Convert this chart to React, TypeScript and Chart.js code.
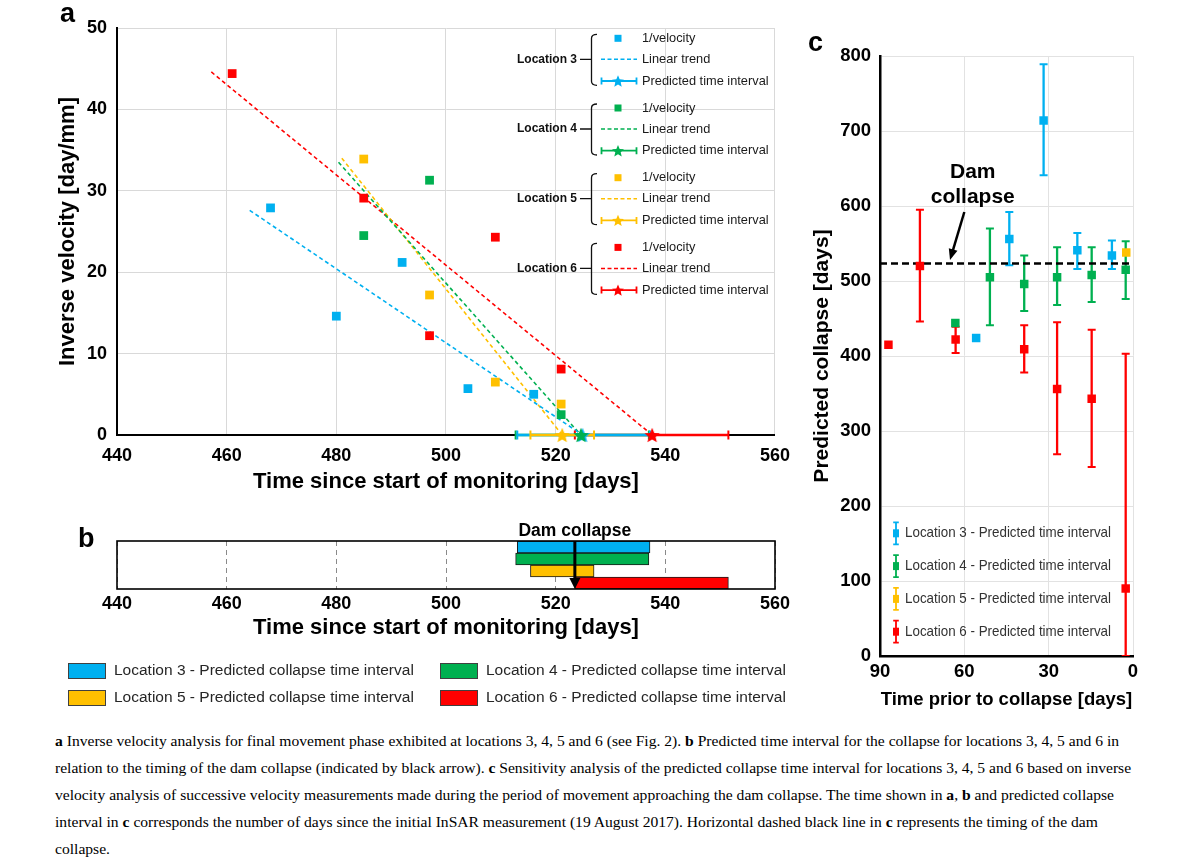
import React, { useEffect, useRef } from 'react';
import { Chart, registerables } from 'chart.js';

Chart.register(...registerables);

const FONT = '"Liberation Sans", Arial, Helvetica, sans-serif';
const BLUE = '#00B0F0';
const GREEN = '#00B050';
const YELLOW = '#FFC000';
const RED = '#FF0000';

// ---------- Panel a : inverse velocity ----------
const loc3Days = [468, 480, 492, 504, 516];
const loc3InvVel = [27.9, 14.6, 21.2, 5.7, 5.0];
const loc4Days = [485, 497, 521];
const loc4InvVel = [24.5, 31.3, 2.5];
const loc5Days = [485, 497, 509, 521];
const loc5InvVel = [33.9, 17.2, 6.5, 3.8];
const loc6Days = [461, 485, 497, 509, 521];
const loc6InvVel = [44.4, 29.1, 12.2, 24.3, 8.1];

// linear trend end points
const loc3TrendX = [464.2, 524.9];
const loc3TrendY = [27.6, 0];
const loc4TrendX = [480.4, 524.6];
const loc4TrendY = [33.5, 0];
const loc5TrendX = [481.0, 521.2];
const loc5TrendY = [34.0, 0];
const loc6TrendX = [457.2, 537.6];
const loc6TrendY = [44.6, 0];

// predicted collapse interval [low, predicted, high]
const loc3Interval = [513.0, 524.9, 537.2];
const loc4Interval = [512.7, 524.6, 537.0];
const loc5Interval = [515.4, 521.2, 527.0];
const loc6Interval = [523.5, 537.6, 551.5];

const damCollapseDay = 523.5;

// ---------- Panel b ----------
const barRows = ['Location 3', 'Location 4', 'Location 5', 'Location 6'];

// ---------- Panel c : sensitivity ----------
const loc3Prior = [55.8, 44.0, 31.8, 19.8, 7.5];
const loc3Pred = [424, 556, 714, 541, 534];
const loc3Low: (number | null)[] = [null, 521, 641, 516, 516];
const loc3High: (number | null)[] = [null, 592, 789, 564, 554];

const loc4Prior = [63.2, 50.9, 38.7, 27.0, 14.7, 2.6];
const loc4Pred = [444, 505, 496, 505, 508, 515];
const loc4Low: (number | null)[] = [null, 441, 460, 468, 472, 476];
const loc4High: (number | null)[] = [null, 570, 534, 545, 545, 553];

const loc5Prior = [2.4];
const loc5Pred = [538];

const loc6Prior = [87.0, 75.8, 63.1, 38.7, 27.0, 14.7, 2.6];
const loc6Pred = [415, 520, 422, 409, 356, 343, 90];
const loc6Low: (number | null)[] = [null, 446, 404, 378, 269, 252, 0];
const loc6High: (number | null)[] = [null, 595, 439, 441, 445, 435, 403];

// ---------- helpers ----------
function starPath(ctx: CanvasRenderingContext2D, cx: number, cy: number, R: number) {
  const r = R * 0.45;
  ctx.beginPath();
  for (let i = 0; i < 10; i++) {
    const ang = -Math.PI / 2 + (i * Math.PI) / 5;
    const rad = i % 2 === 0 ? R : r;
    const x = cx + rad * Math.cos(ang);
    const y = cy + rad * Math.sin(ang);
    if (i === 0) ctx.moveTo(x, y);
    else ctx.lineTo(x, y);
  }
  ctx.closePath();
}

function makeStar(color: string, R: number): HTMLCanvasElement {
  const size = Math.ceil(R * 2 + 2);
  const c = document.createElement('canvas');
  c.width = size;
  c.height = size;
  const ctx = c.getContext('2d')!;
  starPath(ctx, size / 2, size / 2 + R * 0.1, R);
  ctx.fillStyle = color;
  ctx.fill();
  return c;
}

function pts(xs: number[], ys: number[]) {
  return xs.map((x, i) => ({ x, y: ys[i] }));
}

function errorBarPoints(prior: number[], low: (number | null)[], high: (number | null)[]) {
  const out: { x: number; y: number | null }[] = [];
  prior.forEach((x, i) => {
    const lo = low[i];
    const hi = high[i];
    if (lo == null || hi == null) return;
    out.push({ x, y: lo }, { x, y: hi }, { x, y: null });
  });
  return out;
}

// ---------- Panel a ----------
function buildA(el: HTMLCanvasElement) {
  const squares = (days: number[], vals: number[], color: string) => ({
    type: 'scatter' as const,
    data: pts(days, vals),
    pointStyle: 'rect',
    pointRadius: 6.2,
    backgroundColor: color,
    borderColor: color,
    borderWidth: 0,
    order: 5,
  });
  const trend = (xs: number[], ys: number[], color: string) => ({
    type: 'line' as const,
    data: pts(xs, ys),
    borderColor: color,
    borderWidth: 1.6,
    borderDash: [4, 3],
    pointRadius: 0,
    fill: false,
    showLine: true,
    order: 10,
  });
  const interval = (iv: number[], color: string, order: number) => ({
    type: 'line' as const,
    data: [
      { x: iv[0], y: 0 },
      { x: iv[2], y: 0 },
    ],
    borderColor: color,
    borderWidth: 2.5,
    showLine: true,
    pointStyle: 'line',
    pointRotation: 90,
    pointRadius: 4.5,
    pointBorderWidth: 2,
    pointBorderColor: color,
    pointBackgroundColor: color,
    clip: false as const,
    order,
  });
  const star = (iv: number[], color: string) => ({
    type: 'scatter' as const,
    data: [{ x: iv[1], y: 0 }],
    pointStyle: makeStar(color, 8),
    pointRadius: 8,
    clip: false as const,
    order: 0,
  });

  const legendA = {
    id: 'legendA',
    afterDraw(chart: any) {
      const ctx: CanvasRenderingContext2D = chart.ctx;
      ctx.save();
      ctx.fillStyle = '#000';
      ctx.font = 'bold 27px ' + FONT;
      ctx.textAlign = 'left';
      ctx.textBaseline = 'alphabetic';
      ctx.fillText('a', 60, 22);

      const groups = [
        { name: 'Location 3', color: BLUE },
        { name: 'Location 4', color: GREEN },
        { name: 'Location 5', color: YELLOW },
        { name: 'Location 6', color: RED },
      ];
      groups.forEach((g, i) => {
        const cy = 59.3 + i * 69.7;
        const r0 = cy - 21;
        const r1 = cy;
        const r2 = cy + 21.7;
        ctx.fillStyle = '#111';
        ctx.font = 'bold 12px ' + FONT;
        ctx.textAlign = 'right';
        ctx.textBaseline = 'middle';
        ctx.fillText(g.name, 577, cy);
        ctx.strokeStyle = '#111';
        ctx.lineWidth = 1.3;
        ctx.setLineDash([]);
        ctx.beginPath();
        ctx.moveTo(580, cy);
        ctx.lineTo(591.5, cy);
        ctx.moveTo(597, cy - 25);
        ctx.quadraticCurveTo(591.5, cy - 25, 591.5, cy - 21);
        ctx.lineTo(591.5, cy + 22);
        ctx.quadraticCurveTo(591.5, cy + 26, 597, cy + 26);
        ctx.stroke();
        // square
        ctx.fillStyle = g.color;
        ctx.fillRect(618 - 3.5, r0 - 3.5, 7, 7);
        // dashed trend
        ctx.strokeStyle = g.color;
        ctx.lineWidth = 1.5;
        ctx.setLineDash([4, 2.5]);
        ctx.beginPath();
        ctx.moveTo(601, r1);
        ctx.lineTo(637, r1);
        ctx.stroke();
        ctx.setLineDash([]);
        // interval
        ctx.lineWidth = 1.8;
        ctx.beginPath();
        ctx.moveTo(601, r2);
        ctx.lineTo(637, r2);
        ctx.moveTo(601.5, r2 - 3.5);
        ctx.lineTo(601.5, r2 + 3.5);
        ctx.moveTo(636.5, r2 - 3.5);
        ctx.lineTo(636.5, r2 + 3.5);
        ctx.stroke();
        starPath(ctx, 618, r2 + 0.6, 6.3);
        ctx.fillStyle = g.color;
        ctx.fill();
        // texts
        ctx.fillStyle = '#1a1a1a';
        ctx.font = '12.8px ' + FONT;
        ctx.textAlign = 'left';
        ctx.fillText('1/velocity', 642, r0);
        ctx.fillText('Linear trend', 642, r1);
        ctx.fillText('Predicted time interval', 642, r2, 128);
      });
      ctx.restore();
    },
  };

  return new Chart(el, {
    type: 'scatter',
    data: {
      datasets: [
        trend(loc3TrendX, loc3TrendY, BLUE),
        trend(loc4TrendX, loc4TrendY, GREEN),
        trend(loc5TrendX, loc5TrendY, YELLOW),
        trend(loc6TrendX, loc6TrendY, RED),
        squares(loc3Days, loc3InvVel, BLUE),
        squares(loc4Days, loc4InvVel, GREEN),
        squares(loc5Days, loc5InvVel, YELLOW),
        squares(loc6Days, loc6InvVel, RED),
        interval(loc6Interval, RED, 4),
        interval(loc4Interval, GREEN, 3),
        interval(loc3Interval, BLUE, 2),
        interval(loc5Interval, YELLOW, 1),
        star(loc6Interval, RED),
        star(loc4Interval, GREEN),
        star(loc3Interval, BLUE),
        star(loc5Interval, YELLOW),
      ] as any,
    },
    options: {
      animation: false,
      responsive: false,
      maintainAspectRatio: false,
      layout: { padding: { left: 55, right: 25, top: 28, bottom: 5 } },
      plugins: { legend: { display: false }, tooltip: { enabled: false } },
      scales: {
        x: {
          type: 'linear',
          min: 440,
          max: 560,
          ticks: { stepSize: 20, color: '#000', padding: 10, font: { size: 18, weight: 'bold' } },
          grid: { color: '#d9d9d9', drawTicks: false },
          border: { color: '#000', width: 2 },
          title: {
            display: true,
            text: 'Time since start of monitoring [days]',
            color: '#000',
            padding: 0,
            font: { size: 22, weight: 'bold' },
          },
          afterFit: (s: any) => {
            s.height = 60;
          },
        },
        y: {
          type: 'linear',
          min: 0,
          max: 50,
          ticks: { stepSize: 10, color: '#000', padding: 10, font: { size: 18, weight: 'bold' } },
          grid: { color: '#d9d9d9', drawTicks: false },
          border: { color: '#000', width: 2 },
          title: {
            display: true,
            text: 'Inverse velocity [day/mm]',
            color: '#000',
            padding: 0,
            font: { size: 22, weight: 'bold' },
          },
          afterFit: (s: any) => {
            s.width = 62;
          },
        },
      },
    } as any,
    plugins: [legendA],
  });
}

// ---------- Panel b ----------
function buildB(el: HTMLCanvasElement) {
  const intervals = [loc3Interval, loc4Interval, loc5Interval, loc6Interval];
  const colors = [BLUE, GREEN, YELLOW, RED];
  const pluginB = {
    id: 'pluginB',
    afterDraw(chart: any) {
      const ctx: CanvasRenderingContext2D = chart.ctx;
      const ca = chart.chartArea;
      const xs = chart.scales.x;
      ctx.save();
      ctx.setLineDash([]);
      ctx.strokeStyle = '#000';
      ctx.lineWidth = 1.6;
      ctx.strokeRect(ca.left, ca.top, ca.right - ca.left, ca.bottom - ca.top);
      const ax = xs.getPixelForValue(damCollapseDay);
      ctx.lineWidth = 3;
      ctx.beginPath();
      ctx.moveTo(ax, ca.top);
      ctx.lineTo(ax, ca.bottom - 9);
      ctx.stroke();
      ctx.fillStyle = '#000';
      ctx.beginPath();
      ctx.moveTo(ax - 5.5, ca.bottom - 11);
      ctx.lineTo(ax + 5.5, ca.bottom - 11);
      ctx.lineTo(ax, ca.bottom);
      ctx.closePath();
      ctx.fill();
      ctx.font = 'bold 17.5px ' + FONT;
      ctx.textAlign = 'center';
      ctx.textBaseline = 'middle';
      ctx.fillText('Dam collapse', ax, ca.top - 10);
      ctx.font = 'bold 27px ' + FONT;
      ctx.textAlign = 'left';
      ctx.textBaseline = 'alphabetic';
      ctx.fillText('b', 78, 47);
      // legend
      const items = [
        { x: 68, y: 171, c: BLUE, t: 'Location 3 - Predicted collapse time interval' },
        { x: 440, y: 171, c: GREEN, t: 'Location 4 - Predicted collapse time interval' },
        { x: 68, y: 198, c: YELLOW, t: 'Location 5 - Predicted collapse time interval' },
        { x: 440, y: 198, c: RED, t: 'Location 6 - Predicted collapse time interval' },
      ];
      items.forEach((it) => {
        ctx.fillStyle = it.c;
        ctx.fillRect(it.x, it.y - 8, 38, 16);
        ctx.strokeStyle = '#404040';
        ctx.lineWidth = 1;
        ctx.strokeRect(it.x + 0.5, it.y - 7.5, 37, 15);
        ctx.fillStyle = '#262626';
        ctx.font = '15.5px ' + FONT;
        ctx.textAlign = 'left';
        ctx.textBaseline = 'middle';
        ctx.fillText(it.t, it.x + 46, it.y, 304);
      });
      ctx.restore();
    },
  };
  return new Chart(el, {
    type: 'bar',
    data: {
      labels: barRows,
      datasets: intervals.map((iv, i) => ({
        label: barRows[i],
        data: barRows.map((_, j) => (j === i ? [iv[0], iv[2]] : null)),
        backgroundColor: colors[i],
        borderColor: '#1a1a1a',
        borderWidth: 1,
        borderSkipped: false,
        grouped: false,
        barPercentage: 1,
        categoryPercentage: 1,
      })) as any,
    },
    options: {
      indexAxis: 'y',
      animation: false,
      responsive: false,
      maintainAspectRatio: false,
      layout: { padding: { left: 117, right: 25, top: 41, bottom: 74 } },
      plugins: { legend: { display: false }, tooltip: { enabled: false } },
      scales: {
        x: {
          type: 'linear',
          min: 440,
          max: 560,
          ticks: { stepSize: 20, color: '#000', padding: 4, font: { size: 18, weight: 'bold' } },
          grid: { color: '#8a8a8a', drawTicks: false, lineWidth: 1 },
          border: { display: false, dash: [5, 4] },
          title: {
            display: true,
            text: 'Time since start of monitoring [days]',
            color: '#000',
            padding: 0,
            font: { size: 22, weight: 'bold' },
          },
          afterFit: (s: any) => {
            s.height = 52;
          },
        },
        y: { display: false },
      },
    } as any,
    plugins: [pluginB],
  });
}

// ---------- Panel c ----------
function buildC(el: HTMLCanvasElement) {
  const errDs = (prior: number[], low: (number | null)[], high: (number | null)[], color: string) => ({
    type: 'line' as const,
    data: errorBarPoints(prior, low, high),
    borderColor: color,
    borderWidth: 2.3,
    showLine: true,
    spanGaps: false,
    pointStyle: 'line',
    pointRadius: 4,
    pointBorderWidth: 2,
    pointBorderColor: color,
    pointBackgroundColor: color,
    order: 2,
  });
  const sq = (prior: number[], pred: number[], color: string) => ({
    type: 'scatter' as const,
    data: pts(prior, pred),
    pointStyle: 'rect',
    pointRadius: 6,
    backgroundColor: color,
    borderColor: color,
    borderWidth: 0,
    order: 0,
  });
  const pluginC = {
    id: 'pluginC',
    afterDraw(chart: any) {
      const ctx: CanvasRenderingContext2D = chart.ctx;
      const xs = chart.scales.x;
      const ys = chart.scales.y;
      ctx.save();
      ctx.fillStyle = '#000';
      ctx.font = 'bold 27px ' + FONT;
      ctx.textAlign = 'left';
      ctx.textBaseline = 'alphabetic';
      ctx.fillText('c', 18, 51);
      // Dam collapse annotation
      ctx.font = 'bold 21px ' + FONT;
      ctx.textAlign = 'center';
      ctx.textBaseline = 'middle';
      const tx = xs.getPixelForValue(57);
      ctx.fillText('Dam', tx, ys.getPixelForValue(645));
      ctx.fillText('collapse', tx, ys.getPixelForValue(612));
      const x0 = xs.getPixelForValue(60.0);
      const y0 = ys.getPixelForValue(592);
      const x1 = xs.getPixelForValue(65.1);
      const y1 = ys.getPixelForValue(528);
      const ang = Math.atan2(y1 - y0, x1 - x0);
      ctx.strokeStyle = '#000';
      ctx.lineWidth = 2.5;
      ctx.beginPath();
      ctx.moveTo(x0, y0);
      ctx.lineTo(x1 - 8 * Math.cos(ang), y1 - 8 * Math.sin(ang));
      ctx.stroke();
      ctx.beginPath();
      ctx.moveTo(x1, y1);
      ctx.lineTo(x1 - 11 * Math.cos(ang) + 4.5 * Math.sin(ang), y1 - 11 * Math.sin(ang) - 4.5 * Math.cos(ang));
      ctx.lineTo(x1 - 11 * Math.cos(ang) - 4.5 * Math.sin(ang), y1 - 11 * Math.sin(ang) + 4.5 * Math.cos(ang));
      ctx.closePath();
      ctx.fill();
      // legend
      const rows = [
        { c: BLUE, t: 'Location 3 - Predicted time interval' },
        { c: GREEN, t: 'Location 4 - Predicted time interval' },
        { c: YELLOW, t: 'Location 5 - Predicted time interval' },
        { c: RED, t: 'Location 6 - Predicted time interval' },
      ];
      rows.forEach((r, i) => {
        const y = 533.3 + i * 32.8;
        const x = 106;
        ctx.strokeStyle = r.c;
        ctx.lineWidth = 1.8;
        ctx.beginPath();
        ctx.moveTo(x, y - 11);
        ctx.lineTo(x, y + 11);
        ctx.moveTo(x - 2.8, y - 11);
        ctx.lineTo(x + 2.8, y - 11);
        ctx.moveTo(x - 2.8, y + 11);
        ctx.lineTo(x + 2.8, y + 11);
        ctx.stroke();
        ctx.fillStyle = r.c;
        ctx.fillRect(x - 3, y - 4, 6, 8);
        ctx.fillStyle = '#333';
        ctx.font = '14.5px ' + FONT;
        ctx.textAlign = 'left';
        ctx.textBaseline = 'middle';
        ctx.fillText(r.t, 115, y, 206);
      });
      ctx.restore();
    },
  };
  return new Chart(el, {
    type: 'scatter',
    data: {
      datasets: [
        {
          type: 'line',
          data: [
            { x: 90, y: damCollapseDay },
            { x: 0, y: damCollapseDay },
          ],
          borderColor: '#000',
          borderWidth: 2.5,
          borderDash: [7, 4],
          pointRadius: 0,
          showLine: true,
          order: 1,
        },
        errDs(loc6Prior, loc6Low, loc6High, RED),
        errDs(loc4Prior, loc4Low, loc4High, GREEN),
        errDs(loc3Prior, loc3Low, loc3High, BLUE),
        sq(loc6Prior, loc6Pred, RED),
        sq(loc4Prior, loc4Pred, GREEN),
        sq(loc3Prior, loc3Pred, BLUE),
        sq(loc5Prior, loc5Pred, YELLOW),
      ] as any,
    },
    options: {
      animation: false,
      responsive: false,
      maintainAspectRatio: false,
      layout: { padding: { left: 20, right: 58, top: 56, bottom: 9 } },
      plugins: { legend: { display: false }, tooltip: { enabled: false } },
      scales: {
        x: {
          type: 'linear',
          min: 0,
          max: 90,
          reverse: true,
          ticks: { stepSize: 30, color: '#000', padding: 5, font: { size: 18.5, weight: 'bold' } },
          grid: { color: '#e2e2e2', drawTicks: false },
          border: { color: '#000', width: 2.5 },
          title: {
            display: true,
            text: 'Time prior to collapse [days]',
            color: '#000',
            padding: 0,
            font: { size: 18.5, weight: 'bold' },
          },
          afterFit: (s: any) => {
            s.height = 55;
          },
        },
        y: {
          type: 'linear',
          min: 0,
          max: 800,
          ticks: { stepSize: 100, color: '#000', padding: 9, font: { size: 18.5, weight: 'bold' } },
          grid: { color: '#e2e2e2', drawTicks: false },
          border: { color: '#000', width: 2.5 },
          title: {
            display: true,
            text: 'Predicted collapse [days]',
            color: '#000',
            padding: 0,
            font: { size: 21, weight: 'bold' },
          },
          afterFit: (s: any) => {
            s.width = 70;
          },
        },
      },
    } as any,
    plugins: [pluginC],
  });
}

export default function App() {
  const refA = useRef<HTMLCanvasElement>(null);
  const refB = useRef<HTMLCanvasElement>(null);
  const refC = useRef<HTMLCanvasElement>(null);

  useEffect(() => {
    Chart.defaults.font.family = FONT;
    Chart.defaults.color = '#000';
    const charts = [buildA(refA.current!), buildB(refB.current!), buildC(refC.current!)];
    return () => charts.forEach((c) => c.destroy());
  }, []);

  const serif = '"Liberation Serif", "Times New Roman", Times, serif';

  return (
    <div
      style={{
        position: 'absolute',
        left: 0,
        top: 0,
        width: 1191,
        height: 861,
        background: '#fff',
        overflow: 'hidden',
      }}
    >
      <canvas
        ref={refA}
        width={800}
        height={500}
        style={{ position: 'absolute', left: 0, top: 0, width: 800, height: 500 }}
      />
      <canvas
        ref={refB}
        width={800}
        height={215}
        style={{ position: 'absolute', left: 0, top: 500, width: 800, height: 215 }}
      />
      <canvas
        ref={refC}
        width={401}
        height={720}
        style={{ position: 'absolute', left: 790, top: 0, width: 401, height: 720 }}
      />
      <div
        style={{
          position: 'absolute',
          left: 55,
          top: 727,
          fontFamily: serif,
          fontSize: '15.6px',
          lineHeight: '27px',
          color: '#000',
          whiteSpace: 'nowrap',
        }}
      >
        <div>
          <b>a</b> Inverse velocity analysis for final movement phase exhibited at locations 3, 4, 5 and 6 (see Fig. 2).{' '}
          <b>b</b> Predicted time interval for the collapse for locations 3, 4, 5 and 6 in
        </div>
        <div>
          relation to the timing of the dam collapse (indicated by black arrow). <b>c</b> Sensitivity analysis of the
          predicted collapse time interval for locations 3, 4, 5 and 6 based on inverse
        </div>
        <div>
          velocity analysis of successive velocity measurements made during the period of movement approaching the dam
          collapse. The time shown in <b>a</b>, <b>b</b> and predicted collapse
        </div>
        <div>
          interval in <b>c</b> corresponds the number of days since the initial InSAR measurement (19 August 2017).
          Horizontal dashed black line in <b>c</b> represents the timing of the dam
        </div>
        <div>collapse.</div>
      </div>
    </div>
  );
}
